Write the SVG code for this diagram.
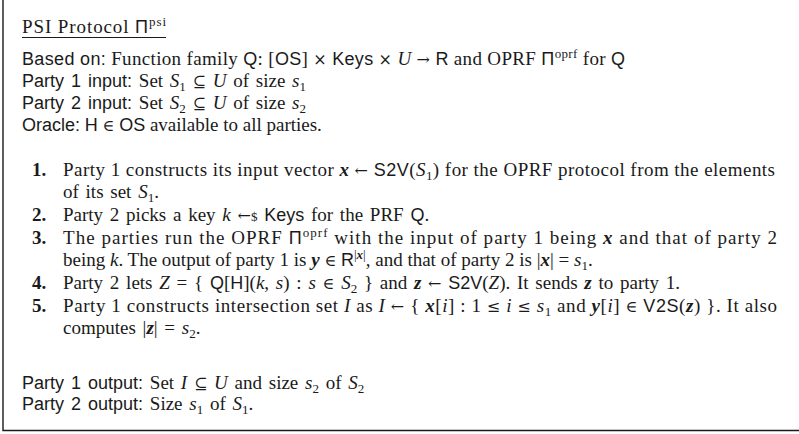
<svg xmlns="http://www.w3.org/2000/svg" width="799" height="434" viewBox="0 0 799 434">
<style>
text{font-family:"Liberation Serif","DejaVu Serif",serif;font-size:19px;fill:#1a1a1a;word-spacing:2px}
.sf{font-family:"Liberation Sans","DejaVu Sans",sans-serif;font-size:18px}
.it{font-style:italic}
.bi{font-style:italic;font-weight:bold}
.b{font-weight:bold}
.sm{font-size:13px}
.sy{font-family:"DejaVu Serif",serif;font-size:16px}
.j{word-spacing:0}
.frame{stroke:#1a1a1a;stroke-width:1.4;fill:none}
</style>
<rect width="799" height="434" fill="#fff"/>
<g id="frame"><path class="frame" d="M3,0 V430.5 H799"/></g>
<g id="title">
<text class="j" x="22" y="33" textLength="144" lengthAdjust="spacing">PSI Protocol <tspan class="sf">Π</tspan><tspan class="sm" dy="-7">psi</tspan></text>
<line x1="22" y1="37.5" x2="166" y2="37.5" stroke="#1a1a1a" stroke-width="1"/>
</g>
<g id="header">
<text class="j" x="22" y="65" textLength="603" lengthAdjust="spacing"><tspan class="sf">Based on:</tspan> Function family <tspan class="sf">Q</tspan>: [<tspan class="sf">OS</tspan>] <tspan class="sy">×</tspan> <tspan class="sf">Keys</tspan> <tspan class="sy">×</tspan> <tspan class="it">U</tspan> <tspan class="sy">→</tspan> <tspan class="sf">R</tspan> and OPRF <tspan class="sf">Π</tspan><tspan class="sm" dy="-7">oprf</tspan><tspan dy="7"> for </tspan><tspan class="sf">Q</tspan></text>
<text x="22" y="87"><tspan class="sf">Party 1 input:</tspan> Set <tspan class="it">S</tspan><tspan class="sm" dy="3.5">1</tspan><tspan dy="-3.5"> </tspan><tspan class="sy">⊆</tspan> <tspan class="it">U</tspan> of size <tspan class="it">s</tspan><tspan class="sm" dy="3.5">1</tspan></text>
<text x="22" y="109"><tspan class="sf">Party 2 input:</tspan> Set <tspan class="it">S</tspan><tspan class="sm" dy="3.5">2</tspan><tspan dy="-3.5"> </tspan><tspan class="sy">⊆</tspan> <tspan class="it">U</tspan> of size <tspan class="it">s</tspan><tspan class="sm" dy="3.5">2</tspan></text>
<text class="j" x="22" y="131"><tspan class="sf">Oracle:</tspan> <tspan class="sf">H</tspan> <tspan class="sy">∈</tspan> <tspan class="sf">OS</tspan> available to all parties.</text>
</g>
<g id="steps">
<text class="b" x="32" y="176">1.</text>
<text class="j" x="63" y="176" textLength="712" lengthAdjust="spacing">Party 1 constructs its input vector <tspan class="bi">x</tspan> <tspan class="sy">←</tspan> <tspan class="sf">S2V</tspan>(<tspan class="it">S</tspan><tspan class="sm" dy="3.5">1</tspan><tspan dy="-3.5">) for the OPRF protocol from the elements</tspan></text>
<text x="63" y="198">of its set <tspan class="it">S</tspan><tspan class="sm" dy="3.5">1</tspan><tspan dy="-3.5">.</tspan></text>
<text class="b" x="32" y="221">2.</text>
<text x="63" y="221">Party 2 picks a key <tspan class="it">k</tspan> <tspan class="sy">←</tspan><tspan class="sm">$</tspan> <tspan class="sf">Keys</tspan> for the PRF <tspan class="sf">Q</tspan>.</text>
<text class="b" x="32" y="244">3.</text>
<text class="j" x="63" y="244" textLength="714" lengthAdjust="spacing">The parties run the OPRF <tspan class="sf">Π</tspan><tspan class="sm" dy="-7">oprf</tspan><tspan dy="7"> with the input of party 1 being </tspan><tspan class="bi">x</tspan> and that of party 2</text>
<text class="j" x="63" y="266">being <tspan class="it">k</tspan>. The output of party 1 is <tspan class="bi">y</tspan> <tspan class="sy">∈</tspan> <tspan class="sf">R</tspan><tspan class="sm" dy="-7">|</tspan><tspan class="sm bi">x</tspan><tspan class="sm">|</tspan><tspan dy="7">, and that of party 2 is |</tspan><tspan class="bi">x</tspan>| = <tspan class="it">s</tspan><tspan class="sm" dy="3.5">1</tspan><tspan dy="-3.5">.</tspan></text>
<text class="b" x="32" y="289">4.</text>
<text x="63" y="289">Party 2 lets <tspan class="it">Z</tspan> = { <tspan class="sf">Q</tspan>[<tspan class="sf">H</tspan>](<tspan class="it">k</tspan>, <tspan class="it">s</tspan>) : <tspan class="it">s</tspan> <tspan class="sy">∈</tspan> <tspan class="it">S</tspan><tspan class="sm" dy="3.5">2</tspan><tspan dy="-3.5"> } and </tspan><tspan class="bi">z</tspan> <tspan class="sy">←</tspan> <tspan class="sf">S2V</tspan>(<tspan class="it">Z</tspan>). It sends <tspan class="bi">z</tspan> to party 1.</text>
<text class="b" x="32" y="312">5.</text>
<text class="j" x="63" y="312" textLength="714" lengthAdjust="spacing">Party 1 constructs intersection set <tspan class="it">I</tspan> as <tspan class="it">I</tspan> <tspan class="sy">←</tspan> { <tspan class="bi">x</tspan>[<tspan class="it">i</tspan>] : 1 <tspan class="sy">≤</tspan> <tspan class="it">i</tspan> <tspan class="sy">≤</tspan> <tspan class="it">s</tspan><tspan class="sm" dy="3.5">1</tspan><tspan dy="-3.5"> and </tspan><tspan class="bi">y</tspan>[<tspan class="it">i</tspan>] <tspan class="sy">∈</tspan> <tspan class="sf">V2S</tspan>(<tspan class="bi">z</tspan>) }. It also</text>
<text x="63" y="334">computes |<tspan class="bi">z</tspan>| = <tspan class="it">s</tspan><tspan class="sm" dy="3.5">2</tspan><tspan dy="-3.5">.</tspan></text>
</g>
<g id="outputs">
<text x="22" y="389"><tspan class="sf">Party 1 output:</tspan> Set <tspan class="it">I</tspan> <tspan class="sy">⊆</tspan> <tspan class="it">U</tspan> and size <tspan class="it">s</tspan><tspan class="sm" dy="3.5">2</tspan><tspan dy="-3.5"> of </tspan><tspan class="it">S</tspan><tspan class="sm" dy="3.5">2</tspan></text>
<text x="22" y="410"><tspan class="sf">Party 2 output:</tspan> Size <tspan class="it">s</tspan><tspan class="sm" dy="3.5">1</tspan><tspan dy="-3.5"> of </tspan><tspan class="it">S</tspan><tspan class="sm" dy="3.5">1</tspan><tspan dy="-3.5">.</tspan></text>
</g>
</svg>
